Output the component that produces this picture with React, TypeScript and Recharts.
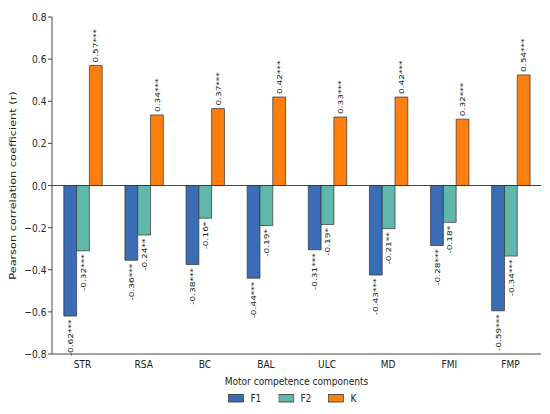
import React from "react";
import {
  BarChart,
  Bar,
  XAxis,
  YAxis,
  ReferenceLine,
  LabelList,
  Legend,
  Label,
} from "recharts";

const categories = ["STR", "RSA", "BC", "BAL", "ULC", "MD", "FMI", "FMP"];
const f1Values = [-0.62, -0.355, -0.375, -0.44, -0.305, -0.425, -0.285, -0.595];
const f2Values = [-0.31, -0.235, -0.155, -0.19, -0.185, -0.205, -0.175, -0.335];
const kValues = [0.57, 0.335, 0.365, 0.42, 0.325, 0.42, 0.315, 0.525];
const f1Labels = ["-0.62***", "-0.36***", "-0.38***", "-0.44***", "-0.31***", "-0.43***", "-0.28***", "-0.59***"];
const f2Labels = ["-0.32***", "-0.24**", "-0.16*", "-0.19*", "-0.19*", "-0.21**", "-0.18*", "-0.34***"];
const kLabels = ["0.57***", "0.34***", "0.37***", "0.42***", "0.33***", "0.42***", "0.32***", "0.54***"];
const yTicks = [-0.8, -0.6, -0.4, -0.2, 0, 0.2, 0.4, 0.6, 0.8];

const data = categories.map((c, i) => ({
  name: c,
  F1: f1Values[i],
  F2: f2Values[i],
  K: kValues[i],
  F1lab: f1Labels[i],
  F2lab: f2Labels[i],
  Klab: kLabels[i],
}));

const COLORS = { F1: "#3b6db4", F2: "#5fb8aa", K: "#ff7f0e" };
const FONT = "'DejaVu Sans', sans-serif";
const TEXT = "#222";
const SX = 0.8; // horizontal squeeze of the whole figure
const W = 550 / SX;
const H = 414;

const RotLabel = (props: any) => {
  const vb = props.viewBox ?? props;
  const x = Number(vb.x ?? props.x);
  const y = Number(vb.y ?? props.y);
  const w = Number(vb.width ?? props.width);
  const h = Number(vb.height ?? props.height);
  const value = String(props.value ?? "");
  const cx = x + w / 2;
  const top = Math.min(y, y + h);
  const bottom = Math.max(y, y + h);
  const neg = value.startsWith("-");
  const ay = neg ? bottom + 3.5 : top - 3;
  return (
    <text
      x={cx}
      y={ay}
      transform={`rotate(-90, ${cx}, ${ay})`}
      textAnchor={neg ? "end" : "start"}
      dominantBaseline="central"
      fontSize={9}
      fontFamily={FONT}
      fill={TEXT}
    >
      {value}
    </text>
  );
};

const LegendContent = () => (
  <div
    style={{
      display: "flex",
      alignItems: "center",
      marginLeft: 228 / SX,
      height: 12,
      fontFamily: FONT,
      fontSize: 11.3,
      color: TEXT,
    }}
  >
    {(["F1", "F2", "K"] as const).map((k) => (
      <div key={k} style={{ display: "flex", alignItems: "center", width: 50 / SX }}>
        <svg width={20} height={9} style={{ display: "block" }}>
          <rect x={0.5} y={0.5} width={19} height={7.5} fill={COLORS[k]} stroke="#333" strokeWidth={0.8} />
        </svg>
        <span style={{ marginLeft: 8 }}>{k}</span>
      </div>
    ))}
  </div>
);

export default function App() {
  return (
    <div style={{ position: "absolute", left: 0, top: 0, width: 550, height: H, overflow: "hidden", background: "#fff" }}>
      <div style={{ width: W, height: H, transform: `scaleX(${SX})`, transformOrigin: "0 0" }}>
        <BarChart
          width={W}
          height={H}
          data={data}
          margin={{ top: 17, right: 9 / SX, left: 0, bottom: 0 }}
          barGap={0}
          barCategoryGap="19.3%"
        >
          <XAxis
            dataKey="name"
            height={38}
            tickLine={false}
            tickSize={3}
            tickMargin={3}
            axisLine={{ stroke: "#333", strokeWidth: 1 }}
            tick={{ fontSize: 11.3, fontFamily: FONT, fill: TEXT }}
            interval={0}
          >
            <Label
              value="Motor competence components"
              position="insideBottom"
              offset={7}
              style={{ fontSize: 11.3, fontFamily: FONT, fill: TEXT }}
            />
          </XAxis>
          <YAxis
            width={52 / SX}
            domain={[-0.8, 0.8]}
            ticks={yTicks}
            type="number"
            allowDataOverflow
            tickSize={5}
            tickMargin={2}
            tickLine={{ stroke: "#333" }}
            axisLine={{ stroke: "#333", strokeWidth: 1 }}
            tick={{ fontSize: 11.3, fontFamily: FONT, fill: TEXT }}
            tickFormatter={(v: number) => (v < 0 ? "\u2212" + Math.abs(v).toFixed(1) : v.toFixed(1))}
          >
            <Label
              value="Pearson correlation coefficient (r)"
              angle={-90}
              position="insideLeft"
              offset={16}
              style={{ fontSize: 11.3, fontFamily: FONT, fill: TEXT, textAnchor: "middle" }}
            />
          </YAxis>
          <ReferenceLine y={0} stroke="#333" strokeWidth={1} />
          <Legend verticalAlign="bottom" height={22} content={LegendContent} wrapperStyle={{ left: 0, width: W }} />
          <Bar dataKey="F1" fill={COLORS.F1} stroke="#333" strokeWidth={0.8} isAnimationActive={false}>
            <LabelList dataKey="F1lab" content={RotLabel} />
          </Bar>
          <Bar dataKey="F2" fill={COLORS.F2} stroke="#333" strokeWidth={0.8} isAnimationActive={false}>
            <LabelList dataKey="F2lab" content={RotLabel} />
          </Bar>
          <Bar dataKey="K" fill={COLORS.K} stroke="#333" strokeWidth={0.8} isAnimationActive={false}>
            <LabelList dataKey="Klab" content={RotLabel} />
          </Bar>
        </BarChart>
      </div>
    </div>
  );
}
